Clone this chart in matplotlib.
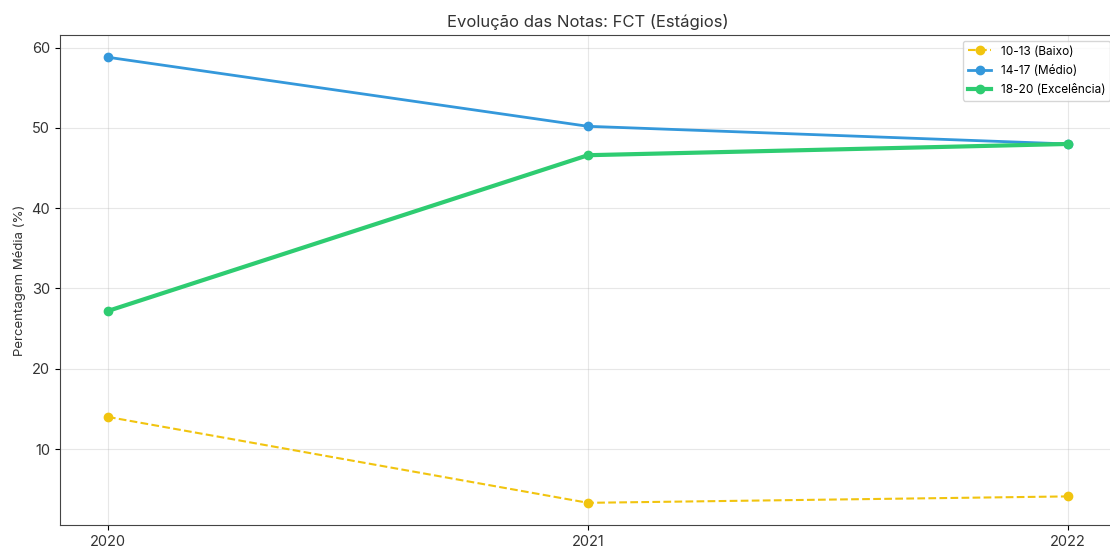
import matplotlib.pyplot as plt

years = [2020, 2021, 2022]
baixo = [14.0, 3.3, 4.1]
medio = [58.8, 50.2, 48.0]
excelencia = [27.2, 46.6, 48.0]
labels = ["10-13 (Baixo)", "14-17 (Médio)", "18-20 (Excelência)"]

plt.rcParams["font.family"] = ["Inter", "DejaVu Sans"]

fig = plt.figure(figsize=(11.1, 5.51), dpi=100)
# the reference is cropped on the right, so the axes run slightly past the edge
ax = fig.add_axes([0.054, 0.047, 0.9514, 0.8895])

ax.plot(years, baixo, "--o", color="#f1c40f", lw=1.5, ms=6, label=labels[0])
ax.plot(years, medio, "-o", color="#3498db", lw=2, ms=6, label=labels[1])
ax.plot(years, excelencia, "-o", color="#2ecc71", lw=3, ms=6, label=labels[2])

ax.set_xticks(years)
ax.set_xticklabels([str(y) for y in years], fontsize=10.5, color="#333333")
ax.tick_params(axis="y", labelsize=10.5, labelcolor="#333333")
ax.set_ylabel("Percentagem Média (%)", fontsize=9.5, color="#333333")
ax.set_title("Evolução das Notas: FCT (Estágios)", fontsize=12, color="#333333")
ax.grid(True, alpha=0.3)
for s in ax.spines.values():
    s.set_color("#444444")
ax.spines["right"].set_visible(False)
ax.legend(loc="upper right", fontsize=8.5, labelspacing=0.6)

fig.savefig("out.png", dpi=100)
